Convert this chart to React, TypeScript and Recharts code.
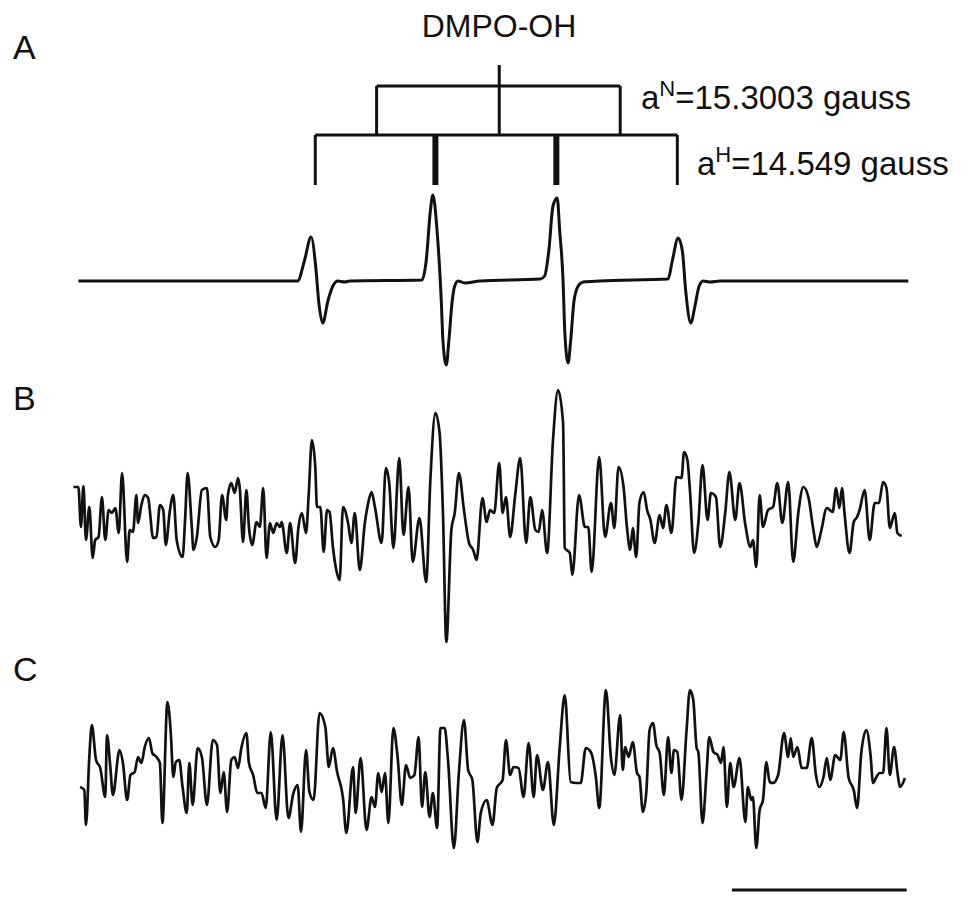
import React from "react";
import { LineChart, Line, XAxis, YAxis, ReferenceLine } from "recharts";

// Field offset (G) and derivative intensity (a.u.)
const traceA: [number, number][] = [
  [1.0, 0], [27.1, 0], [27.9, 20], [28.7, 44], [29.3, 10], [29.6, -20], [30.1, -42], [30.7, -20],
  [31.3, -5], [31.9, 0], [32.7, -1], [33.3, 0], [41.9, 1], [42.4, 20], [42.9, 70], [43.2, 86],
  [43.7, 50], [44.2, -20], [44.4, -60], [44.8, -84], [45.1, -60], [45.5, -20], [45.8, -5], [46.2, 0],
  [47.0, -2], [48.8, 0], [56.0, 2], [56.5, 5], [57.0, 30], [57.5, 75], [58.0, 83], [58.3, 50],
  [58.7, 0], [58.9, -50], [59.3, -82], [59.6, -60], [60.0, -20], [60.5, -5], [61.1, -1], [63.1, 0],
  [71.2, 2], [71.7, 20], [72.4, 43], [72.9, 30], [73.3, -10], [73.9, -42], [74.4, -25], [74.9, -5],
  [75.4, 0], [76.2, -1], [77.4, 0], [99.8, 0],
];

const traceB: [number, number][] = [
  [0.4, 33], [1.0, 33], [1.3, -7], [1.6, 34], [1.9, -20], [2.3, 13], [2.7, -38], [3.0, -20],
  [3.4, -17], [3.8, 23], [4.2, -20], [4.6, 10], [5.0, 7], [5.4, 12], [5.8, -13], [6.2, 47],
  [6.8, -42], [7.1, -10], [7.5, -12], [7.9, 25], [8.1, -3], [8.5, 15], [8.9, 25], [9.3, 22],
  [9.9, -18], [10.3, -17], [10.7, 15], [11.1, 10], [11.4, -25], [11.9, 10], [12.3, 25], [12.7, -20],
  [13.4, -37], [13.7, 0], [14.0, 47], [14.5, -7], [14.7, -30], [15.1, -17], [15.7, 30], [16.3, 32],
  [16.7, -17], [17.3, -27], [17.7, -20], [18.1, 25], [18.6, 0], [18.8, 25], [19.2, 37], [19.6, 27],
  [20.0, 42], [20.2, 33], [20.6, -22], [21.0, 30], [21.3, -7], [21.7, -25], [22.2, -2], [22.6, -7],
  [23.0, 32], [23.4, -38], [23.8, -3], [24.2, -13], [24.6, -3], [25.0, -7], [25.2, -2], [25.8, -33],
  [26.2, -3], [26.8, -43], [27.2, -7], [27.6, 7], [28.1, -13], [28.4, 23], [28.8, 80], [29.2, 53],
  [29.4, 13], [29.8, 13], [30.2, -32], [30.6, 10], [30.9, 8], [31.3, -27], [31.7, -50], [32.1, -60],
  [32.5, 13], [33.1, -3], [33.5, -23], [33.9, 7], [34.5, -50], [35.1, -3], [35.5, 17], [35.9, 28],
  [36.3, 13], [37.1, -23], [37.6, 52], [38.0, 37], [38.5, -28], [39.2, 62], [39.7, -15], [40.3, 33],
  [40.8, -42], [41.6, 2], [42.4, -62], [42.9, 40], [43.5, 107], [44.0, 87], [44.4, 7], [44.8, -122],
  [45.4, -10], [45.8, 7], [46.3, 47], [46.9, 10], [47.5, -23], [48.0, -30], [48.4, -40], [49.1, 22],
  [49.6, -2], [50.0, 10], [50.5, 7], [51.1, 57], [51.5, 7], [51.9, 23], [52.4, -17], [53.0, 25],
  [53.6, 62], [54.3, -23], [54.8, 23], [55.4, -10], [55.8, -12], [56.2, 10], [56.8, -33], [57.5, 80],
  [58.1, 130], [58.7, 97], [58.9, -28], [59.5, -33], [59.8, -55], [60.6, 25], [61.3, -7], [61.7, -7],
  [62.1, -52], [63.0, 63], [63.7, -17], [64.4, 17], [64.8, -8], [65.3, 53], [65.9, 33], [66.3, -7],
  [66.7, -30], [67.0, -8], [67.4, -37], [67.8, 18], [68.3, 28], [68.7, 10], [69.1, 0], [69.6, -23],
  [70.2, 5], [70.6, -8], [71.0, 15], [71.6, -13], [72.2, 43], [72.8, 42], [73.1, 68], [73.5, 60],
  [73.8, 30], [74.3, -33], [74.8, -3], [75.3, 55], [75.9, 0], [76.3, 27], [76.9, 23], [77.4, -27],
  [78.0, 7], [78.5, 48], [79.2, 0], [79.7, 37], [80.4, -5], [81.0, -27], [81.3, -20], [81.7, -47],
  [82.1, 25], [82.5, -7], [83.1, 10], [83.7, 13], [84.2, 37], [84.8, -3], [85.5, 38], [86.1, -42],
  [86.7, 7], [87.3, 33], [87.9, 23], [88.5, -10], [88.9, -27], [89.4, -12], [90.1, 12], [90.8, 8],
  [91.2, 32], [91.6, 12], [91.9, 32], [92.2, 7], [92.8, -33], [93.3, -2], [93.7, 3], [94.0, 10],
  [94.6, 30], [95.2, -20], [95.8, 17], [96.3, 17], [96.8, 38], [97.2, 32], [97.6, -8], [97.9, 0],
  [98.2, 7], [98.5, -13], [99.0, -16],
];

const traceC: [number, number][] = [
  [1.2, -17], [1.7, -20], [1.9, -55], [2.3, 13], [2.6, 45], [3.1, 10], [3.6, 2], [4.2, -27],
  [4.4, 35], [4.8, 3], [5.1, -25], [5.9, 20], [6.3, 7], [6.8, -30], [7.2, -5], [7.7, -2],
  [8.1, 13], [8.5, 7], [8.9, 23], [9.4, 32], [9.8, 17], [10.3, 13], [10.7, 7], [11.0, -53],
  [11.6, 68], [12.0, 37], [12.3, -7], [12.6, 8], [13.0, 10], [13.4, -17], [13.9, -43], [14.2, 7],
  [14.6, -35], [15.2, 22], [15.7, 13], [16.3, -35], [17.0, 30], [17.5, 25], [17.9, -23], [18.3, -2],
  [18.7, -42], [19.2, 10], [19.6, 13], [20.0, 2], [20.4, 22], [21.0, 37], [21.3, 7], [21.8, -5],
  [22.3, -23], [22.8, -23], [23.3, -38], [23.9, 38], [24.6, -50], [25.3, 35], [26.0, -48], [26.6, -23],
  [27.1, -15], [27.5, -62], [28.1, 20], [28.5, -22], [29.0, -30], [29.7, 57], [30.4, 43], [30.8, 3],
  [31.3, 22], [31.8, -2], [32.5, -28], [32.9, -63], [33.7, 3], [34.0, -43], [34.6, 12], [35.3, -60],
  [35.9, -27], [36.3, -37], [36.7, -3], [37.1, -22], [37.5, -3], [37.9, -53], [38.5, 42], [39.0, 13],
  [39.5, -35], [40.0, 5], [40.5, -8], [41.0, -5], [41.5, 33], [41.9, -37], [42.3, -2], [42.8, -47],
  [43.2, -23], [43.7, -58], [44.1, 42], [44.6, 42], [45.0, 10], [45.7, -78], [46.3, -2], [46.9, 50],
  [47.4, 0], [47.9, -10], [48.5, -72], [48.9, -43], [49.6, -30], [50.3, -55], [50.8, -18], [51.5, -10],
  [51.9, 30], [52.4, -5], [52.8, 3], [53.4, 2], [54.0, -27], [54.6, 27], [55.2, -27], [55.6, 15],
  [56.3, -20], [56.9, 8], [57.6, -55], [58.3, 23], [58.9, 75], [59.6, -12], [60.3, -13], [60.8, -13],
  [61.4, 22], [62.0, 18], [62.6, -7], [63.0, -38], [63.8, 80], [64.4, 12], [64.8, -5], [65.5, 55],
  [65.8, 0], [66.1, 23], [66.5, 13], [67.0, 28], [67.5, -3], [67.8, -7], [68.2, -42], [68.6, -23],
  [69.0, 40], [69.4, 47], [69.8, 25], [70.2, 17], [70.7, -25], [71.2, 33], [71.6, -3], [71.9, 20],
  [72.3, 18], [72.8, -30], [73.4, 40], [73.8, 80], [74.2, 70], [74.6, 22], [74.8, 18], [75.3, -53],
  [75.8, 0], [76.1, 33], [76.6, 18], [77.1, 15], [77.5, 7], [77.8, 23], [78.2, -37], [78.6, 7],
  [79.0, -17], [79.7, 12], [80.4, -52], [80.7, -17], [81.1, -30], [81.3, -27], [81.7, -78], [82.1, -40],
  [82.5, -30], [82.9, 8], [83.3, -12], [83.7, -13], [84.3, -5], [85.0, 37], [85.5, 13], [85.8, 32],
  [86.1, 13], [86.6, 23], [87.1, 2], [87.7, 2], [88.3, 32], [88.8, -5], [89.2, -17], [89.7, -7],
  [90.1, 12], [90.5, -10], [91.1, 15], [91.7, 10], [92.1, 38], [92.7, -8], [93.3, -20], [93.7, -38],
  [94.2, 17], [94.8, 40], [95.3, 15], [95.6, -13], [96.0, -7], [96.4, -3], [96.8, -3], [97.2, 42],
  [97.6, -5], [98.1, 23], [98.5, -2], [98.8, -17], [99.4, -8],
];

// stick diagram for DMPO-OH (1:2:2:1), field positions in G
const protonLines = [29.2, 43.5, 57.9, 72.3];
const protonWeights = [1, 2, 2, 1];
const nitrogenLines = [36.5, 65.5];
const centerField = 51.1;
// tree levels in panel A intensity units
const stemTop = 216;
const nitrogenLevel = 195;
const protonLevel = 146;
const stickEnd = 96;

const scaleBar = [78.8, 99.6];

const W = 969;
const MARGIN = { top: 0, right: 59, bottom: 0, left: 70 };
const INK = "#111";

const toRows = (t: [number, number][]) => t.map(([field, signal]) => ({ field, signal }));

function seg(key: string, x1: number, y1: number, x2: number, y2: number, w = 3) {
  return (
    <ReferenceLine
      key={key}
      segment={[{ x: x1, y: y1 }, { x: x2, y: y2 }]}
      stroke={INK}
      strokeWidth={w}
      ifOverflow="visible"
    />
  );
}

function Panel({ rows, top, height, yDomain, extras, width = 2.7 }: any) {
  return (
    <div style={{ position: "absolute", left: 0, top }}>
      <LineChart width={W} height={height} data={rows} margin={MARGIN}>
        <XAxis dataKey="field" type="number" domain={[0, 100]} hide allowDataOverflow />
        <YAxis type="number" domain={yDomain} hide allowDataOverflow />
        <Line
          dataKey="signal"
          type="monotone"
          stroke={INK}
          strokeWidth={width}
          strokeLinejoin="round"
          dot={false}
          isAnimationActive={false}
        />
        {extras}
      </LineChart>
    </div>
  );
}

export default function App() {
  const tree = [
    seg("stem", centerField, stemTop, centerField, protonLevel),
    seg("nbar", nitrogenLines[0], nitrogenLevel, nitrogenLines[1], nitrogenLevel),
    ...nitrogenLines.map((x, i) => seg("nd" + i, x, nitrogenLevel, x, protonLevel)),
    seg("hbar", protonLines[0], protonLevel, protonLines[3], protonLevel),
    ...protonLines.map((x, i) => seg("hd" + i, x, protonLevel, x, stickEnd, 3 * protonWeights[i])),
  ];
  const bar = [seg("scale", scaleBar[0], -120, scaleBar[1], -120, 3)];

  const font = "'Liberation Sans', Arial, Helvetica, sans-serif";
  return (
    <div style={{ position: "absolute", left: 0, top: 0, width: W, height: 906, background: "#fff" }}>
      <Panel rows={toRows(traceA)} top={0} height={381} yDomain={[-100, 281]} extras={tree} width={3} />
      <Panel rows={toRows(traceB)} top={381} height={279} yDomain={[-140, 139]} />
      <Panel rows={toRows(traceC)} top={660} height={246} yDomain={[-136, 110]} extras={bar} />
      <svg
        width={W}
        height={906}
        style={{ position: "absolute", left: 0, top: 0, pointerEvents: "none" }}
        fontFamily={font}
        fill={INK}
      >
        <text x={13} y={59} fontSize={34}>A</text>
        <text x={13} y={410} fontSize={34}>B</text>
        <text x={13} y={681} fontSize={34}>C</text>
        <text x={499} y={37} fontSize={32} textAnchor="middle">DMPO-OH</text>
        <text x={641} y={109} fontSize={33}>
          a<tspan fontSize={22} dy={-13}>N</tspan><tspan dy={13}>=15.3003 gauss</tspan>
        </text>
        <text x={697} y={175} fontSize={33}>
          a<tspan fontSize={22} dy={-13}>H</tspan><tspan dy={13}>=14.549 gauss</tspan>
        </text>
      </svg>
    </div>
  );
}
